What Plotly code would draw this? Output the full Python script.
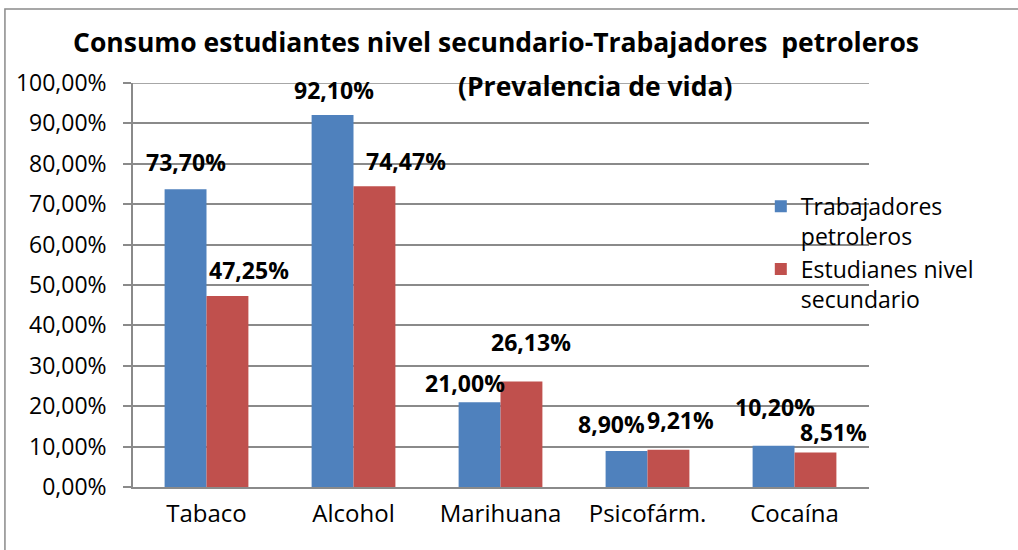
import plotly.graph_objects as go

categories = ["Tabaco", "Alcohol", "Marihuana", "Psicofárm.", "Cocaína"]
trabajadores = [0.737, 0.921, 0.21, 0.089, 0.102]
estudiantes = [0.4725, 0.7447, 0.2613, 0.0921, 0.0851]
y_ticks = [0, 0.1, 0.2, 0.3, 0.4, 0.5, 0.6, 0.7, 0.8, 0.9, 1.0]

BLUE = "#4F81BD"
RED = "#C0504D"
GRID = "#8a8a8a"
FONT = "Open Sans"

# manual label offsets (pixels) like the hand-placed labels in the original
trab_shift = [(-21, 27), (-20, 25), (-36, 19), (-36, 27), (-20, 39)]
est_shift = [(42, 26), (52, 25), (30, 39), (33, 30), (39, 21)]


def pct(v):
    return "{:.2f}%".format(v * 100).replace(".", ",")


fig = go.Figure()
fig.add_trace(go.Bar(x=categories, y=trabajadores, name="Trabajadores<br>petroleros",
                     marker=dict(color=BLUE, line=dict(width=0))))
fig.add_trace(go.Bar(x=categories, y=estudiantes, name="Estudianes nivel<br>secundario",
                     marker=dict(color=RED, line=dict(width=0))))

annotations = []
for cat, v, (dx, dy) in zip(categories, trabajadores, trab_shift):
    annotations.append(dict(x=cat, y=v, xref="x", yref="y", text="<b>" + pct(v) + "</b>",
                            showarrow=False, xshift=dx, yshift=dy, yanchor="middle",
                            font=dict(family=FONT, size=23, color="black")))
for cat, v, (dx, dy) in zip(categories, estudiantes, est_shift):
    annotations.append(dict(x=cat, y=v, xref="x", yref="y", text="<b>" + pct(v) + "</b>",
                            showarrow=False, xshift=dx, yshift=dy, yanchor="middle",
                            font=dict(family=FONT, size=23, color="black")))

# title in two pieces, the second line sits further right as in the original
annotations.append(dict(x=0.493, y=1.101, xref="paper", yref="paper",
                        xanchor="center", yanchor="middle",
                        text="<b>Consumo estudiantes nivel secundario-Trabajadores  petroleros</b>",
                        showarrow=False, font=dict(family=FONT, size=26.5, color="black")))
annotations.append(dict(x=0.628, y=0.993, xref="paper", yref="paper",
                        xanchor="center", yanchor="middle",
                        text="<b>(Prevalencia de vida)</b>",
                        showarrow=False, font=dict(family=FONT, size=26.5, color="black")))

fig.update_layout(
    width=1018, height=550,
    margin=dict(l=133, r=149, t=83, b=63),
    paper_bgcolor="white", plot_bgcolor="white",
    separators=",.",
    barmode="group", bargap=0.43, bargroupgap=0,
    font=dict(family=FONT, size=23, color="black"),
    showlegend=True,
    legend=dict(x=0.853, y=0.748, xanchor="left", yanchor="top", valign="top",
                font=dict(family=FONT, size=23, color="black"),
                bgcolor="rgba(0,0,0,0)", tracegroupgap=7),
    annotations=annotations,
    shapes=[
        # chart frame, running off the right and bottom edges like the crop
        dict(type="rect", xref="paper", yref="paper", x0=-0.174, y0=-0.3, x1=1.3, y1=1.183,
             line=dict(color=GRID, width=1.5), layer="below"),
        # top gridline at 100% (plotly drops the gridline at the range end)
        dict(type="line", xref="paper", yref="y", x0=0, x1=1, y0=y_ticks[-1], y1=y_ticks[-1],
             line=dict(color=GRID, width=1.5), layer="below"),
    ],
)
fig.update_yaxes(range=[0, 1.0], tickvals=y_ticks, tickformat=".2%",
                 showgrid=True, gridcolor=GRID, gridwidth=1.5,
                 showline=True, linecolor=GRID, linewidth=1.5,
                 ticks="outside", ticklen=8, tickcolor=GRID, tickwidth=1.5,
                 ticklabelstandoff=12, zeroline=False, tickfont=dict(size=23))
fig.update_xaxes(showline=True, linecolor=GRID, linewidth=1.5, ticks="",
                 ticklabelstandoff=4, tickfont=dict(size=24))

fig.write_html("out.html", config={"displayModeBar": False},
               post_script="document.body.style.margin='0px';")
